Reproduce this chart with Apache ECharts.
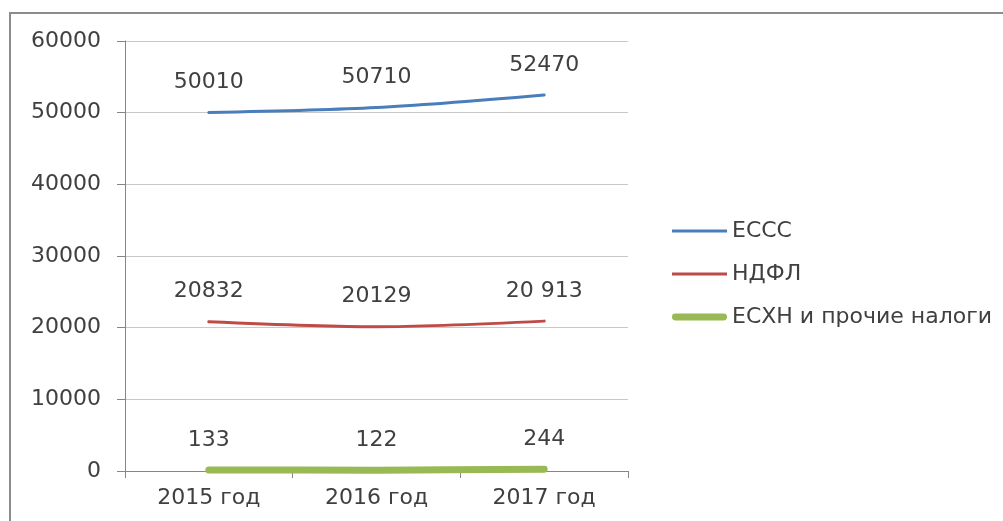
<!DOCTYPE html>
<html><head><meta charset="utf-8">
<script src="https://cdn.jsdelivr.net/npm/echarts@6/dist/echarts.min.js"></script>
<style>html,body{margin:0;padding:0;background:#fff}#c{width:1003px;height:521px}</style>
</head><body><div id="c"></div>
<script>
const categories = ['2015 год', '2016 год', '2017 год'];
const esss = [50010, 50710, 52470];
const ndfl = [20832, 20129, 20913];
const eskhn = [133, 122, 244];
const esssLabels = ['50010', '50710', '52470'];
const ndflLabels = ['20832', '20129', '20 913'];
const eskhnLabels = ['133', '122', '244'];
const seriesNames = ['ЕССС', 'НДФЛ', 'ЕСХН и прочие налоги'];
const yTicks = [0, 10000, 20000, 30000, 40000, 50000, 60000];

const font = 'DejaVu Sans';
const fs = 22;
const txt = '#404040';
const thinIcon = 'path://M0,0h0.01v0.01h-0.01z M0,5.5h55v3h-55z M54.99,13.99h0.01v0.01h-0.01z';
const thickIcon = 'path://M0,0h0.01v0.01h-0.01z M3,3.5h49a3.5,3.5 0 0 1 0,7h-49a3.5,3.5 0 0 1 0,-7z M54.99,13.99h0.01v0.01h-0.01z';
function mk(name, data, labels, color, width) {
  return {
    name, type: 'line', data, symbol: 'circle', symbolSize: 2, showSymbol: true, smooth: 0.3,
    lineStyle: { color, width, cap: 'round' }, itemStyle: { color },
    label: { show: true, position: 'top', distance: 18, fontFamily: font, fontSize: fs, color: txt,
      formatter: p => labels[p.dataIndex] },
    z: 3
  };
}
const chart = echarts.init(document.getElementById('c'));
chart.setOption({
  animation: false,
  textStyle: { fontFamily: font },
  graphic: [{ type: 'rect', shape: { x: 10, y: 13, width: 1100, height: 600 }, style: { fill: 'none', stroke: '#8c8c8c', lineWidth: 2 }, silent: true }],
  grid: { left: 125, right: 375, top: 41, bottom: 50 },
  legend: {
    orient: 'vertical', left: 667, top: 215, itemWidth: 55, itemHeight: 14, itemGap: 21,
    textStyle: { fontFamily: font, fontSize: fs, color: txt },
    data: [
      { name: seriesNames[0], icon: thinIcon, itemStyle: { color: '#4a7ebb' } },
      { name: seriesNames[1], icon: thinIcon, itemStyle: { color: '#be4b48' } },
      { name: seriesNames[2], icon: thickIcon, itemStyle: { color: '#98b954' } }
    ]
  },
  xAxis: {
    type: 'category', data: categories, boundaryGap: true,
    axisLine: { lineStyle: { color: '#868686' } },
    axisTick: { show: true, length: 7, lineStyle: { color: '#868686' } },
    axisLabel: { fontFamily: font, fontSize: fs, color: txt, margin: 16 }
  },
  yAxis: {
    type: 'value', min: yTicks[0], max: yTicks[yTicks.length - 1], interval: 10000,
    axisLine: { show: true, lineStyle: { color: '#868686' } },
    axisTick: { show: true, length: 8, lineStyle: { color: '#868686' } },
    splitLine: { lineStyle: { color: '#c8c8c8' } },
    axisLabel: { fontFamily: font, fontSize: fs, color: txt, margin: 24, formatter: v => String(v) }
  },
  series: [
    mk(seriesNames[0], esss, esssLabels, '#4a7ebb', 3),
    mk(seriesNames[1], ndfl, ndflLabels, '#be4b48', 3),
    mk(seriesNames[2], eskhn, eskhnLabels, '#98b954', 7)
  ]
});
</script></body></html>
